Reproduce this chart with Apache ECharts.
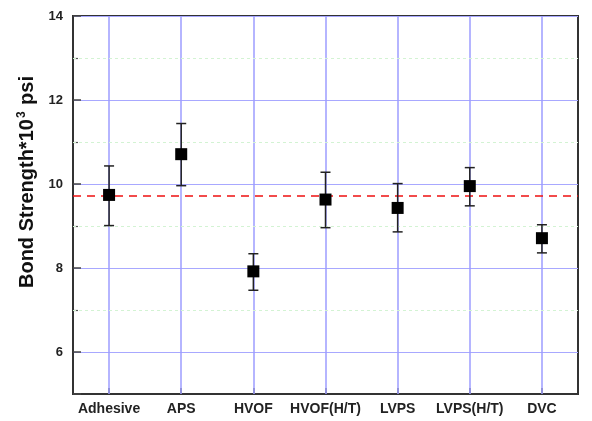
<!DOCTYPE html>
<html>
<head>
<meta charset="utf-8">
<script src="https://cdn.jsdelivr.net/npm/echarts@6/dist/echarts.min.js"></script>
<style>html,body{margin:0;padding:0;background:#fff}#c{width:592px;height:421px}</style>
</head>
<body>
<div id="c"></div>
<script>
var categories = ['Adhesive', 'APS', 'HVOF', 'HVOF(H/T)', 'LVPS', 'LVPS(H/T)', 'DVC'];
var means = [9.74, 10.71, 7.92, 9.63, 9.43, 9.95, 8.71];
var upper = [10.43, 11.44, 8.34, 10.28, 10.01, 10.39, 9.03];
var lower = [9.01, 9.96, 7.47, 8.96, 8.86, 9.48, 8.36];
var refLine = 9.72;
var minorLines = [7, 9, 11, 13];

var chart = echarts.init(document.getElementById('c'));
var errData = categories.map(function (c, i) { return [i, lower[i], upper[i]]; });
var font = 'Arial, "Liberation Sans", sans-serif';

chart.setOption({
  animation: false,
  grid: { left: 73, right: 14, top: 16, bottom: 27, show: true, borderColor: '#333', borderWidth: 2 },
  xAxis: {
    type: 'category', data: categories,
    axisLine: { show: true, lineStyle: { color: '#333', width: 2 } },
    axisTick: { show: true, inside: true, alignWithLabel: true, length: 6, lineStyle: { color: '#444', width: 1.5 } },
    axisLabel: { color: '#222', fontWeight: 'bold', fontSize: 14, fontFamily: font, margin: 8, interval: 0 },
    splitLine: { show: false }
  },
  yAxis: {
    type: 'value', min: 5, max: 14,
    name: '{a|Bond Strength*10}{s|3}{a| psi}', nameLocation: 'middle', nameGap: 33, nameRotate: 90,
    nameTextStyle: { padding: [0, 0, 0, 46], rich: {
      a: { fontWeight: 'bold', fontSize: 20, fontFamily: font, color: '#111' },
      s: { fontWeight: 'bold', fontSize: 12, fontFamily: font, color: '#111', verticalAlign: 'bottom', padding: [0, 1, 11, 1] }
    } },
    axisLine: { show: true, lineStyle: { color: '#333', width: 2 } },
    axisTick: { show: true, inside: true, length: 8, lineStyle: { color: '#444', width: 1.5 } },
    minorTick: { show: true, splitNumber: 2, length: 5, lineStyle: { color: '#555', width: 1.2 } },
    axisLabel: { color: '#222', fontWeight: 'bold', fontSize: 13, fontFamily: font, margin: 10, showMinLabel: false },
    splitLine: { show: true, lineStyle: { color: '#a8a8ff', width: 1 } },
    minorSplitLine: { show: false }
  },
  series: [
    {
      type: 'line', data: [], silent: true, z: 1,
      markLine: {
        silent: true, symbol: 'none', label: { show: false },
        lineStyle: { color: '#9c9cff', width: 1.5, type: 'solid', opacity: 1 },
        data: categories.map(function (c) { return { xAxis: c }; })
      }
    },
    {
      type: 'line', data: [], silent: true, z: 1,
      markLine: {
        silent: true, symbol: 'none', label: { show: false },
        lineStyle: { color: '#d3f3d3', width: 1, type: [3, 3], opacity: 1 },
        data: minorLines.map(function (v) { return { yAxis: v }; })
      }
    },
    {
      type: 'line', data: [], silent: true, z: 4,
      markLine: {
        silent: true, symbol: 'none', label: { show: false },
        lineStyle: { color: '#ee1111', width: 1.5, type: [8, 6], opacity: 1 },
        data: [{ yAxis: refLine }]
      }
    },
    {
      type: 'custom', z: 5, data: errData,
      renderItem: function (params, api) {
        var lo = api.coord([api.value(0), api.value(1)]);
        var hi = api.coord([api.value(0), api.value(2)]);
        var w = 5;
        var st = { stroke: '#222', lineWidth: 1.5 };
        return { type: 'group', children: [
          { type: 'line', shape: { x1: hi[0], y1: hi[1], x2: lo[0], y2: lo[1] }, style: st },
          { type: 'line', shape: { x1: hi[0] - w, y1: hi[1], x2: hi[0] + w, y2: hi[1] }, style: st },
          { type: 'line', shape: { x1: lo[0] - w, y1: lo[1], x2: lo[0] + w, y2: lo[1] }, style: st }
        ] };
      }
    },
    {
      type: 'scatter', z: 6, data: means, symbol: 'rect', symbolSize: 12,
      itemStyle: { color: '#000', opacity: 1 }
    }
  ]
});
</script>
</body>
</html>
